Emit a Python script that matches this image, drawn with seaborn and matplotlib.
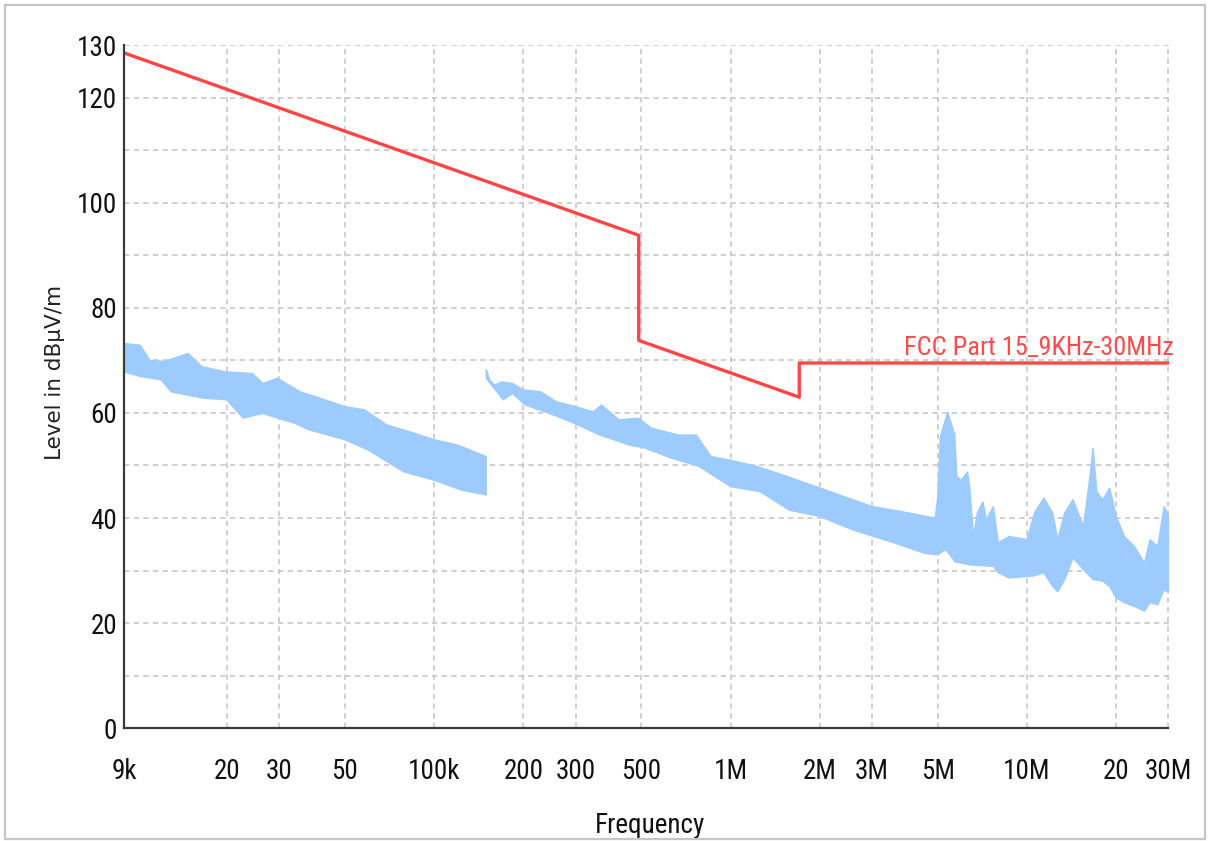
import matplotlib
matplotlib.use("Agg")
import matplotlib.pyplot as plt
from matplotlib.patches import Rectangle
from matplotlib.ticker import FixedLocator, NullLocator
import numpy as np
import seaborn as sns

# FCC Part 15 limit (dBuV/m), steps at 490 kHz and 1.705 MHz
limit_freq_hz = [9e3, 490e3, 490e3, 1.705e6, 1.705e6, 30e6]
limit_level = [128.5, 93.8, 73.8, 63.0, 69.5, 69.5]
limit_name = "FCC Part 15_9KHz-30MHz"

# Measured scan, band 1 (9 kHz - 150 kHz): upper / lower edges of the trace
scan1_upper_khz = [9, 10.2, 11.0, 12.3, 14.8, 16.5, 19.8, 24.4, 26.5, 29.6, 35.4, 41.3, 50, 58.2,
                   69.4, 83, 100, 120, 150]
scan1_upper = [73.2, 72.9, 70.0, 69.8, 71.3, 68.8, 67.8, 67.5, 65.6, 66.6, 64.0, 62.8, 61.2, 60.6,
               57.7, 56.4, 54.9, 53.9, 51.7]
scan1_lower_khz = [9, 10.3, 12, 13, 16.7, 20, 22.7, 26.4, 34, 37.8, 50, 59.7, 79, 100, 124, 150]
scan1_lower = [67.8, 66.9, 66.3, 64.0, 62.8, 62.5, 59.0, 59.9, 58.0, 56.8, 54.9, 53.0, 48.8, 47.2,
               45.3, 44.4]

# Measured scan, band 2 (150 kHz - 30 MHz): upper / lower edges of the trace
scan2_upper_khz = [150, 154, 160, 169, 184, 200, 229, 259, 300, 344, 367, 421, 489, 541, 667, 767,
                   860, 1000, 1230, 1500, 2100, 3000, 3800, 4900, 5000, 5100, 5300, 5400, 5500,
                   5700, 5800, 6000, 6300, 6400, 6600, 6800, 7100, 7300, 7700, 8000, 8700, 10000,
                   10600, 11400, 12200, 12700, 13400, 14300, 15500, 16300, 16700, 17200, 18000,
                   19000, 20000, 21300, 23000, 24900, 26000, 27600, 29000, 30000]
scan2_upper = [68.3, 66.3, 65.3, 65.9, 65.6, 64.4, 64.0, 62.1, 61.2, 60.2, 61.5, 58.7, 59.0, 57.1,
               55.8, 55.8, 51.7, 51.0, 49.8, 48.2, 45.3, 42.2, 41.2, 40.0, 44.0, 55.5, 58.6, 60.2,
               58.6, 56.0, 47.9, 47.2, 48.8, 46.0, 36.5, 41.0, 43.1, 39.7, 42.2, 35.3, 36.5, 35.9,
               41.0, 43.8, 41.0, 35.9, 41.0, 43.5, 38.4, 47.9, 53.3, 45.0, 43.5,
               45.7, 40.3, 36.5, 34.6, 31.5, 35.9, 34.6, 42.2, 40.5]
scan2_lower_khz = [150, 171, 184, 203, 245, 290, 362, 455, 515, 632, 784, 1000, 1260, 1580, 2000,
                   2600, 3600, 4500, 5000, 5300, 5500, 5700, 6400, 7700, 8000, 8700, 10000, 10600,
                   11400, 12200, 12700, 13400, 14300, 15500, 16700, 18000, 19000, 20000, 21300,
                   23000, 24900, 26000, 27600, 29000, 30000]
scan2_lower = [66.6, 62.5, 63.7, 61.5, 59.9, 58.3, 55.8, 53.9, 53.3, 51.4, 49.8, 46.0, 45.0, 41.5,
               40.3, 37.7, 35.2, 33.3, 33.0, 34.0, 33.0, 31.7, 31.1, 30.8, 29.6, 28.6, 28.9, 29.0,
               29.6, 27.0, 26.0, 28.3, 32.4, 30.2, 28.3, 28.0, 27.0, 24.8, 23.9,
               23.2, 22.3, 23.9, 23.5, 26.4, 25.8]

# Axis ticks
xtick_hz = [9e3, 20e3, 30e3, 50e3, 100e3, 200e3, 300e3, 500e3, 1e6, 2e6, 3e6, 5e6, 10e6, 20e6, 30e6]
xtick_labels = ["9k", "20", "30", "50", "100k", "200", "300", "500", "1M", "2M", "3M", "5M", "10M", "20", "30M"]
ytick_major = [0, 20, 40, 60, 80, 100, 120, 130]
ytick_minor = [10, 30, 50, 70, 90, 110]

sns.set_theme(style="white")
plt.rcParams["font.family"] = ["Liberation Sans Narrow", "DejaVu Sans Condensed",
                               "Roboto Condensed", "Liberation Sans", "DejaVu Sans"]

W, H = 1208, 841
fig = plt.figure(figsize=(W / 100, H / 100), dpi=100)
fig.patch.set_facecolor("white")
ax = fig.add_axes([124 / W, (H - 728.3) / H, (1168.5 - 124) / W, 683.3 / H])
ax.set_facecolor("white")

trace_color = "#9dcbfd"
for fu, u, fl, lo in [(scan1_upper_khz, scan1_upper, scan1_lower_khz, scan1_lower),
                      (scan2_upper_khz, scan2_upper, scan2_lower_khz, scan2_lower)]:
    xs = np.r_[np.asarray(fu) * 1e3, np.asarray(fl)[::-1] * 1e3]
    ys = np.r_[u, lo[::-1]]
    ax.fill(xs, ys, color=trace_color, lw=1.0, edgecolor=trace_color, zorder=3)

sns.lineplot(x=limit_freq_hz, y=limit_level, ax=ax, color="#ff4545", lw=2.4,
             sort=False, estimator=None, zorder=4)

ax.annotate(limit_name, xy=(30e6, 69.5), xytext=(4, 5.5), textcoords="offset points",
            ha="right", va="baseline", color="#ff4a4a", fontsize=19, zorder=5)

ax.set_xscale("log")
ax.set_xlim(9e3, 30e6)
ax.set_ylim(0, 130)

ax.xaxis.set_major_locator(FixedLocator(xtick_hz))
ax.xaxis.set_minor_locator(NullLocator())
ax.set_xticklabels(xtick_labels)
ax.yaxis.set_major_locator(FixedLocator(ytick_major))
ax.yaxis.set_minor_locator(FixedLocator(ytick_minor))

grid_kw = dict(color="#c4c4c4", lw=1.1, linestyle=(0, (3.5, 2.8)))
ax.grid(True, which="major", axis="x", **grid_kw)
ax.grid(True, which="both", axis="y", **grid_kw)
ax.set_axisbelow(True)

for side in ["top", "right"]:
    ax.spines[side].set_visible(False)
for side in ["left", "bottom"]:
    ax.spines[side].set_color("#3a3a3a")
    ax.spines[side].set_linewidth(1.6)
    ax.spines[side].set_zorder(6)

ax.tick_params(axis="both", which="both", direction="inout", length=9, width=1.4,
               color="#333333", labelcolor="#111111", labelsize=19.5)
ax.tick_params(axis="y", which="major", pad=0.5)
ax.tick_params(axis="x", which="major", pad=17)
ax.tick_params(axis="y", which="minor", labelleft=False)

ax.set_xlabel("Frequency", fontsize=19.5, color="#111111")
ax.xaxis.label.set_va("baseline")
ax.xaxis.set_label_coords(0.5036, -0.153)

ax.set_ylabel("Level in dBµV/m", fontsize=15.5, color="#222222", family=["DejaVu Sans"])
ax.yaxis.label.set_va("center")
ax.yaxis.set_label_coords(-0.066, 0.521)

fig.add_artist(Rectangle((5 / W, 2 / H), 1200 / W, 834 / H, transform=fig.transFigure,
                         fill=False, ec="#c6c6c6", lw=1.6, zorder=10))

fig.savefig("out.png", dpi=100, facecolor="white")
